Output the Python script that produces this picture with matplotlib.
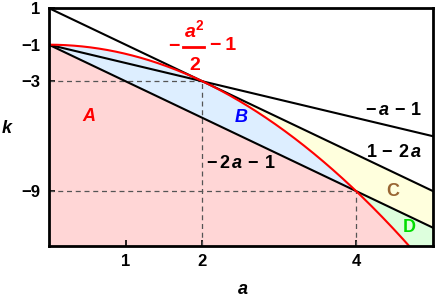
import numpy as np
import matplotlib
matplotlib.use("Agg")
import matplotlib.pyplot as plt
from matplotlib.lines import Line2D

plt.rcParams["font.family"] = ["Liberation Sans", "DejaVu Sans"]
plt.rcParams["font.weight"] = "bold"
plt.rcParams["mathtext.fontset"] = "custom"
plt.rcParams["mathtext.rm"] = "Liberation Sans:bold"
plt.rcParams["mathtext.it"] = "Liberation Sans:bold:italic"
plt.rcParams["mathtext.bf"] = "Liberation Sans:bold"

# ===== data =====
X_MIN, X_MAX = 0, 5
Y_MIN, Y_MAX = -12, 1
x_ticks = [1, 2, 4]
y_ticks = [1, -1, -3, -9]
y_tick_labels = ["1", "\u22121", "\u22123", "\u22129"]
dash_points = [(2, -3), (4, -9)]  # tangent point / intersection point

region_labels = ["A", "B", "C", "D"]
region_pos = [(0.52, -4.9), (2.5, -5.0), (4.48, -9.0), (4.69, -11.0)]
region_colors = ["red", "blue", "#996633", "#00dd00"]

line_labels = [r"$-\,a\,-\,1$", r"$1\,-\,2\,a$", r"$-\,2\,a\,-\,1$"]
line_label_pos = [(4.48, -4.6), (4.50, -6.87), (2.5, -7.5)]


def parab(a):
    return -a ** 2 / 2 - 1


def l1(a):
    return -a - 1


def l2(a):
    return 1 - 2 * a


def l3(a):
    return -2 * a - 1


def px(fig, x, y):
    """画像ピクセル座標 → figure座標"""
    return x / 436, 1 - y / 300


def main():
    a = np.linspace(X_MIN, X_MAX, 600)
    p, y1, y2, y3 = parab(a), l1(a), l2(a), l3(a)

    fig = plt.figure(figsize=(4.36, 3.0), dpi=100)
    ax = fig.add_axes([0.112, 0.18, 0.881, 0.793])

    low = np.full_like(a, Y_MIN - 5)
    # A: below both
    ax.fill_between(a, low, np.minimum(p, y3), color="#ffd6d6", lw=0)
    # B: between -2a-1 and parabola
    m = a <= 4
    ax.fill_between(a[m], y3[m], p[m], color="#ddeeff", lw=0)
    # C: above max(parabola, -2a-1), below 1-2a
    m = a >= 2
    ax.fill_between(a[m], np.maximum(p[m], y3[m]), y2[m], color="#ffffdd", lw=0)
    # D: between parabola and -2a-1
    m = a >= 4
    ax.fill_between(a[m], p[m], y3[m], color="#ddffdd", lw=0)

    for x0, y0 in dash_points:
        ax.plot([X_MIN, x0], [y0, y0], color="#555555", lw=0.9, ls=(0, (4, 3)))
        ax.plot([x0, x0], [Y_MIN, y0], color="#555555", lw=0.9, ls=(0, (4, 3)))

    ax.plot(a, y1, color="black", lw=1.5)
    ax.plot(a, y2, color="black", lw=1.5)
    ax.plot(a, y3, color="black", lw=1.5)
    ax.plot(a, p, color="red", lw=1.5)

    for lab, (x0, y0), c in zip(region_labels, region_pos, region_colors):
        style = "italic" if lab in ("A", "B") else "normal"
        ax.text(x0, y0, lab, color=c, fontsize=13, fontweight="bold",
                fontstyle=style, ha="center", va="center")
    for lab, (x0, y0) in zip(line_labels, line_label_pos):
        ax.text(x0, y0, lab, color="black", fontsize=13, ha="center", va="center")

    # -a^2/2 - 1 (分数を手組み)
    fig.text(*px(fig, 174, 46), "\u2212", color="red", fontsize=14, ha="center", va="center")
    fig.text(*px(fig, 194, 30), r"$a^2$", color="red", fontsize=14, ha="center", va="center")
    fig.add_artist(Line2D([183 / 436, 204 / 436], [1 - 46.5 / 300, 1 - 46.5 / 300],
                          color="red", lw=2.0))
    fig.text(*px(fig, 195, 66), "2", color="red", fontsize=14, ha="center", va="center")
    fig.text(*px(fig, 223, 46), "\u2212\u20091", color="red", fontsize=14,
             ha="center", va="center")

    ax.set_xlim(X_MIN, X_MAX)
    ax.set_ylim(Y_MIN, Y_MAX)
    ax.set_xticks(x_ticks)
    ax.set_yticks(y_ticks)
    ax.set_yticklabels(y_tick_labels)
    ax.tick_params(direction="in", length=4, width=1.2, labelsize=12, pad=6)
    for t in ax.get_xticklabels() + ax.get_yticklabels():
        t.set_fontweight("bold")
    for s in ax.spines.values():
        s.set_linewidth(2)

    fig.text(7 / 436, 1 - 128 / 300, r"$k$", fontsize=13, ha="center", va="center")
    fig.text(243 / 436, 1 - 290 / 300, r"$a$", fontsize=13, ha="center", va="center")

    fig.savefig("out.png", dpi=100)
    plt.close(fig)


if __name__ == "__main__":
    main()
